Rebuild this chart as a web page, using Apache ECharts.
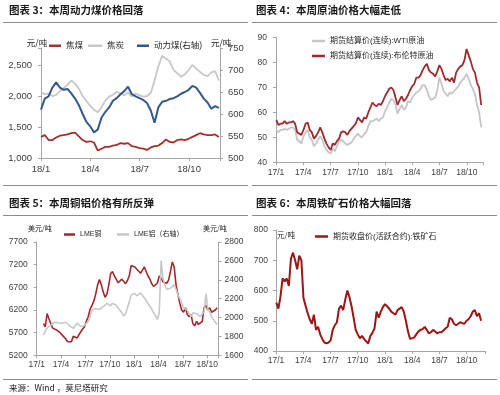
<!DOCTYPE html>
<html><head><meta charset="utf-8">
<script src="https://cdn.jsdelivr.net/npm/echarts/dist/echarts.min.js"></script>
<style>html,body{margin:0;padding:0;background:#fff}#c{width:500px;height:395px}</style>
</head><body><div id="c"></div>
<script>
// ---------- Panel 1 (2018, weekly from 2018-01-01) ----------
var p1Labels = ['18/1', '18/4', '18/7', '18/10'];
var cokingCoal = [1340,1370,1290,1290,1330,1360,1370,1380,1400,1410,1350,1290,1260,1270,1250,1120,1150,1180,1180,1200,1210,1240,1230,1240,1190,1180,1160,1150,1130,1170,1190,1200,1240,1300,1260,1250,1290,1300,1290,1310,1340,1370,1400,1380,1370,1370,1380,1340];
var coke = [2060,2030,2040,2000,2020,2080,2130,2180,2250,2200,2120,2000,1920,1840,1780,1740,1820,1930,1990,2020,2070,2040,2010,2060,1990,2040,2010,1990,2000,2050,2250,2480,2650,2600,2560,2420,2370,2310,2350,2420,2500,2440,2390,2340,2320,2380,2400,2250];
var thermalCoal = [610,635,640,660,672,660,655,657,647,635,620,600,582,572,558,565,592,605,615,630,636,645,652,662,645,640,636,632,625,608,580,615,628,630,634,636,640,646,650,655,664,660,648,635,626,612,618,614];

// ---------- Panel 2 (weekly from 2017-01-02) ----------
var qLabels = ['17/1','17/4','17/7','17/10','18/1','18/4','18/7','18/10'];
var wti = [53,52,53,53,53.5,53,53.5,54,54,53,
  49,48.5,47.5,50.5,52,53,50,49,46.5,47.5,
  49,50.5,49,46.5,45,44,43.5,45.5,44.5,46.5,
  48.5,49,48.5,47.5,47,47.5,48,49.5,50.5,51.5,
  50.5,50,51.5,52,54.5,56.5,56.5,57,57.5,56.5,
  57.5,58,60.5,62,64,65.5,65,63,59.5,61.5,
  63,61,62,64.5,64,66,67,68,68.5,69.5,
  71,71,69,66.5,65,65.5,66,69,74,71.5,
  68.5,67.5,66.5,68,67.5,68.5,69.5,70.5,72,73,
  74,75.5,73.5,71,69.5,67.5,63,60,54];
var brent = [57,55,55.5,55.5,56.5,55.5,56,56,56.5,55.5,
  52,51.5,51,53,55.5,56,53,52,49.5,50.5,
  52,54,52,49.5,47.5,46,45,47.5,47,48.5,
  49.5,52,52.5,52,51,52.5,53.5,54.5,55.5,58,
  57,56,58,57.5,60,62,64,63,62.5,63.5,
  63,64.5,66.5,68,69.5,70,69,66,63,65,
  66.5,64.5,65.5,67,69,70.5,71.5,74,74,75,
  77,78.5,79.5,77,76,75.5,74.5,76.5,79,77.5,
  75,73,73.5,72.5,74,72,76,77.5,78.5,79,
  81,85.5,83,80.5,77.5,76,72,70,63];

// ---------- Panel 3 (weekly from 2017-01-26) ----------
var copper = [5900,5830,6120,6000,6000,5800,5820,5760,5780,5700,
  5650,5620,5560,5500,5540,5500,5620,5650,5580,5650,
  5720,5780,5830,5950,6050,6220,6300,6400,6550,6750,
  6870,6760,6600,6480,6550,6750,7000,7050,6950,6880,
  6800,6820,6880,6850,6780,6850,6960,7180,7150,7150,
  7100,7120,7010,7080,7150,7050,6950,6880,6780,6720,
  6740,6790,6950,6900,6820,6800,6790,6860,7050,7260,
  7150,6750,6550,6350,6200,6150,6250,6100,6050,6100,
  5900,5850,5950,5880,5900,5950,6250,6300,6200,6250,
  6150,6150,6200,6250];
var aluminium = [1815,1830,1890,1910,1920,1935,1950,1930,1945,1955,
  1940,1920,1950,1930,1915,1900,1886,1910,1940,1920,
  1905,1920,1915,1935,1960,2010,2080,2100,2095,2110,
  2085,2100,2115,2130,2150,2135,2125,2150,2165,2130,
  2100,2080,2050,2015,2040,2100,2170,2240,2250,2255,
  2230,2220,2260,2270,2210,2180,2160,2120,2090,2050,
  2020,1980,2050,2600,2420,2340,2300,2290,2310,2320,
  2345,2300,2240,2200,2160,2100,2090,2080,2040,2010,
  2050,2060,2040,2020,2010,2020,2060,2250,2090,2060,
  2010,1980,1950,1925];

// ---------- Panel 4 (weekly from 2017-01-02) ----------
var ironOre = [560,540,580,640,630,640,615,705,725,700,
  670,715,700,575,550,525,505,490,520,470,
  480,455,440,428,425,428,435,470,485,495,
  540,550,535,570,600,578,548,510,470,455,
  442,450,440,432,425,450,460,475,530,510,
  530,545,555,548,540,530,525,520,535,540,
  545,530,500,465,440,442,445,455,465,470,
  472,480,470,458,462,470,465,458,462,462,
  468,475,480,510,505,490,485,490,495,492,
  490,500,505,515,530,535,515,525,500];

function pts(startDay, step, vals) { return vals.map(function (v, i) { return [startDay + i * step, v]; }); }

var FONT = "'Liberation Sans', 'Noto Sans CJK SC', sans-serif";
var AX = '#a6a6a6', TXT = '#404040';
var Q = 91.25;

function xAx(gi, max, labels, fs, margin) {
  return {
    type: 'value', gridIndex: gi, min: 0, max: max, interval: Q,
    axisLine: { show: true, lineStyle: { color: AX, width: 1 } },
    axisTick: { show: true, length: 3, lineStyle: { color: AX } },
    splitLine: { show: false },
    axisLabel: {
      fontSize: fs, color: TXT, fontFamily: FONT, margin: margin, showMaxLabel: true,
      formatter: function (v) { var i = Math.round(v / Q); return Math.abs(v - i * Q) < 0.5 && labels[i] ? labels[i] : ''; }
    }
  };
}
function yAx(gi, min, max, interval, pos, fs, margin, comma) {
  return {
    type: 'value', gridIndex: gi, position: pos, min: min, max: max, interval: interval,
    axisLine: { show: true, lineStyle: { color: AX, width: 1 } },
    axisTick: { show: true, length: 3, lineStyle: { color: AX } },
    splitLine: { show: false },
    axisLabel: {
      fontSize: fs, color: TXT, fontFamily: FONT, margin: margin,
      formatter: function (v) {
        if (Math.abs((v - min) / interval - Math.round((v - min) / interval)) > 1e-6) return '';
        return comma ? v.toLocaleString('en-US') : String(v);
      }
    }
  };
}
function leg(name, left, top, w, fs) {
  return {
    data: [name], left: left, top: top, padding: 0, icon: 'rect', itemWidth: w, itemHeight: 2.5,
    textStyle: { fontSize: fs, color: '#262626', fontFamily: FONT }
  };
}
function line(name, xi, yi, data, color, width) {
  return { name: name, type: 'line', xAxisIndex: xi, yAxisIndex: yi, data: data, showSymbol: false, symbol: 'none',
    lineStyle: { color: color, width: width }, itemStyle: { color: color } };
}
function txt(x, y, s, font, align) {
  return { type: 'text', x: x, y: y, style: { text: s, font: font, fill: '#1a1a1a', align: align || 'left', verticalAlign: 'middle', textAlign: align || 'left', textVerticalAlign: 'middle' } };
}
function rule(x1, x2, y) {
  return { type: 'line', shape: { x1: x1, y1: y, x2: x2, y2: y }, style: { stroke: '#8c8c8c', lineWidth: 1 } };
}

var TF = "bold 10.5px 'Noto Sans CJK SC', sans-serif";
var UF = "8.5px 'Noto Sans CJK SC', sans-serif";
var SF = "7px 'Noto Sans CJK SC', sans-serif";

var chart = echarts.init(document.getElementById('c'), null, { renderer: 'canvas' });
chart.setOption({
  animation: false,
  backgroundColor: '#fff',
  grid: [
    { left: 41, top: 48, width: 179, height: 110 },
    { left: 276, top: 37.7, width: 207.3, height: 124.6 },
    { left: 36.7, top: 242, width: 181.8, height: 113.3 },
    { left: 276, top: 230, width: 209, height: 121 }
  ],
  xAxis: [
    xAx(0, 331, p1Labels, 9.5, 7),
    xAx(1, 694, qLabels, 8.5, 6),
    xAx(2, 681, qLabels, 8.5, 5),
    xAx(3, 700, qLabels, 8.5, 5)
  ],
  yAxis: [
    yAx(0, 1000, 2775, 500, 'left', 9.5, 9, true),
    yAx(0, 500, 750, 50, 'right', 9.5, 8, false),
    yAx(1, 40, 90, 10, 'left', 8.5, 9, false),
    yAx(2, 5200, 7700, 500, 'left', 8.5, 9, false),
    yAx(2, 1600, 2800, 200, 'right', 8.5, 6, false),
    yAx(3, 400, 800, 100, 'left', 8.5, 8, false)
  ],
  legend: [
    leg('焦煤', 49, 41.5, 12, 8.5),
    leg('焦炭', 88, 41.5, 14, 8.5),
    leg('动力煤(右轴)', 137, 41.5, 12, 8.5),
    leg('期货结算价(连续):WTI原油', 312, 37, 13, 8),
    leg('期货结算价(连续):布伦特原油', 312, 52, 13, 8),
    leg('LME铜', 64, 231, 11, 7),
    leg('LME铝（右轴）', 117, 231, 12, 7),
    leg('期货收盘价(活跃合约):铁矿石', 315, 232.5, 13, 8)
  ],
  series: [
    line('焦煤', 0, 0, pts(0, 7, cokingCoal), '#a3302f', 1.8),
    line('焦炭', 0, 0, pts(0, 7, coke), '#c8c8c8', 1.8),
    line('动力煤(右轴)', 0, 1, pts(0, 7, thermalCoal), '#33598a', 2),
    line('期货结算价(连续):WTI原油', 1, 2, pts(1, 7, wti), '#c6c6c6', 1.8),
    line('期货结算价(连续):布伦特原油', 1, 2, pts(1, 7, brent), '#a02a2d', 1.8),
    line('LME铜', 2, 3, pts(25, 7, copper), '#a3282d', 1.6),
    line('LME铝（右轴）', 2, 4, pts(25, 7, aluminium), '#c8c8c8', 1.6),
    line('期货收盘价(活跃合约):铁矿石', 3, 5, pts(1, 7, ironOre), '#9c1616', 2)
  ],
  graphic: [
    txt(9, 10.5, '图表 3：本周动力煤价格回落', TF),
    txt(256, 10.5, '图表 4：本周原油价格大幅走低', TF),
    txt(9, 203.5, '图表 5：本周铜铝价格有所反弹', TF),
    txt(256, 203.5, '图表 6：本周铁矿石价格大幅回落', TF),
    rule(3, 248, 22.5), rule(252, 497, 22.5),
    rule(3, 248, 185.5), rule(252, 497, 185.5),
    rule(3, 248, 215.5), rule(252, 497, 215.5),
    rule(3, 248, 379.5), rule(252, 497, 379.5),
    txt(37, 42.3, '元/吨', UF, 'center'),
    txt(211, 42.3, '元/吨', UF),
    txt(28, 228.3, '美元/吨', SF),
    txt(203, 228.3, '美元/吨', SF),
    txt(277, 235, '元/吨', "7.5px 'Noto Sans CJK SC', sans-serif"),
    txt(9, 388, '来源：Wind ，莫尼塔研究', "8.5px 'Noto Sans CJK SC', sans-serif")
  ]
});
</script></body></html>
